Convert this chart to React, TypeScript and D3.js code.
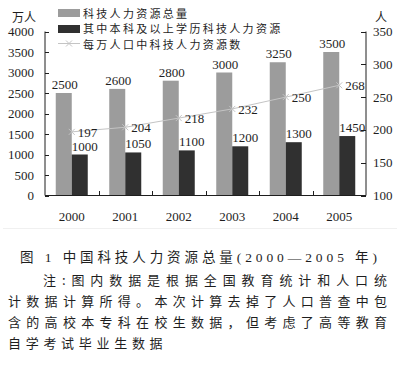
import * as React from 'react';
import * as d3 from 'd3';

const years = ['2000', '2001', '2002', '2003', '2004', '2005'];
const totalHR = [2500, 2600, 2800, 3000, 3250, 3500];
const degreeHR = [1000, 1050, 1100, 1200, 1300, 1450];
const perTenK = [197, 204, 218, 232, 250, 268];
const leftTicks = [0, 500, 1000, 1500, 2000, 2500, 3000, 3500, 4000];
const rightTicks = [100, 150, 200, 250, 300, 350];

const legendLabels = ['科技人力资源总量', '其中本科及以上学历科技人力资源', '每万人口中科技人力资源数'];
const caption = '图 1  中国科技人力资源总量(2000—2005 年)';
const noteLines = [
  '注:图内数据是根据全国教育统计和人口统',
  '计数据计算所得。本次计算去掉了人口普查中包',
  '含的高校本专科在校生数据，但考虑了高等教育',
  '自学考试毕业生数据',
];

const W = 400;
const H = 392;
const GRAY = '#9c9c9c';
const DARK = '#303030';
const LINE = '#c4c4c4';
const INK = '#1e1e1e';
const SERIF = '"Liberation Serif", "Noto Sans CJK SC", serif';
const CJK = '"Noto Sans CJK SC", "Liberation Serif", sans-serif';

export default function App() {
  const x = d3.scaleBand<string>().domain(years).range([45, 366]).padding(0);
  const yL = d3.scaleLinear().domain([0, 4000]).range([195.5, 31.5]);
  const yR = d3.scaleLinear().domain([100, 350]).range([195.5, 31.5]);
  const barW = 16;
  const cx = (d: string) => (x(d) ?? 0) + x.bandwidth() / 2;

  const linePath = d3
    .line<number>()
    .x((_, i) => cx(years[i]))
    .y((d) => yR(d))(perTenK) || '';

  const cross = (px: number, py: number, k: string | number) => (
    <g key={k} stroke={LINE} strokeWidth={1}>
      <line x1={px - 3} y1={py - 3} x2={px + 3} y2={py + 3} />
      <line x1={px - 3} y1={py + 3} x2={px + 3} y2={py - 3} />
    </g>
  );

  return (
    <div style={{ position: 'absolute', left: 0, top: 0 }}>
      <svg width={W} height={H} viewBox={`0 0 ${W} ${H}`} style={{ display: 'block', background: '#fff' }}>
        {/* unit labels */}
        <text x={12} y={22} fontFamily={CJK} fontSize={12} fill={INK}>万人</text>
        <text x={375} y={22} fontFamily={CJK} fontSize={12} fill={INK}>人</text>

        {/* bars */}
        {years.map((d, i) => (
          <g key={d}>
            <rect x={cx(d) - barW} y={yL(totalHR[i])} width={barW} height={yL(0) - yL(totalHR[i])} fill={GRAY} />
            <rect x={cx(d)} y={yL(degreeHR[i])} width={barW} height={yL(0) - yL(degreeHR[i])} fill={DARK} />
            <text x={cx(d) - barW / 2 + 1} y={yL(totalHR[i]) - 4} textAnchor="middle" fontFamily={SERIF} fontSize={13} fill={INK}>
              {totalHR[i]}
            </text>
            <text x={cx(d) + barW / 2 + 5} y={yL(degreeHR[i]) - 4} textAnchor="middle" fontFamily={SERIF} fontSize={13} fill={INK}>
              {degreeHR[i]}
            </text>
          </g>
        ))}

        {/* line series */}
        <path d={linePath} fill="none" stroke={LINE} strokeWidth={1} />
        {perTenK.map((v, i) => cross(cx(years[i]), yR(v), i))}
        {perTenK.map((v, i) => (
          <text key={i} x={cx(years[i]) + 6} y={yR(v) + 5} fontFamily={SERIF} fontSize={13} fill={INK}>
            {v}
          </text>
        ))}

        {/* axes */}
        <line x1={45} y1={31.5} x2={45} y2={195.5} stroke={INK} strokeWidth={1} />
        <line x1={366} y1={31.5} x2={366} y2={195.5} stroke={INK} strokeWidth={1} />
        <line x1={45} y1={195.5} x2={366} y2={195.5} stroke={INK} strokeWidth={1} />
        {leftTicks.map((t) => (
          <g key={t}>
            <line x1={45} x2={49} y1={Math.round(yL(t)) + 0.5} y2={Math.round(yL(t)) + 0.5} stroke={INK} />
            <text x={34} y={yL(t) + 4.5} textAnchor="end" fontFamily={SERIF} fontSize={13} fill={INK}>{t}</text>
          </g>
        ))}
        {rightTicks.map((t) => (
          <g key={t}>
            <line x1={361} x2={366} y1={Math.round(yR(t)) + 0.5} y2={Math.round(yR(t)) + 0.5} stroke={INK} />
            <text x={373} y={yR(t) + 4.5} fontFamily={SERIF} fontSize={13} fill={INK}>{t}</text>
          </g>
        ))}
        {years.slice(1).map((d) => (
          <line key={d} x1={Math.round(x(d) ?? 0) + 0.5} x2={Math.round(x(d) ?? 0) + 0.5} y1={191} y2={195.5} stroke={INK} />
        ))}
        {years.map((d) => (
          <text key={d} x={cx(d)} y={221} textAnchor="middle" fontFamily={SERIF} fontSize={13} fill={INK}>{d}</text>
        ))}

        {/* legend */}
        <rect x={58} y={9} width={22} height={8} fill={GRAY} />
        <rect x={58} y={25} width={22} height={8} fill={DARK} />
        <line x1={58} x2={80} y1={43.5} y2={43.5} stroke={LINE} />
        {cross(69, 43.5, 'lg')}
        {legendLabels.map((t, i) => (
          <text key={t} x={83} y={17.5 + i * 15.8} fontFamily={CJK} fontSize={11} letterSpacing={2.3} fill={INK}>{t}</text>
        ))}

        {/* faint frame edge */}
        <line x1={3} x2={397} y1={228.5} y2={228.5} stroke="#f0f0f0" />

        {/* caption and notes */}
        <text x={20} y={262} fontFamily={SERIF} fontSize={13.5} textLength={357} lengthAdjust="spacing" fill={INK}>
          {caption}
        </text>
        <text x={43} y={285} fontFamily={CJK} fontSize={13} textLength={344} lengthAdjust="spacing" fill={INK}>
          {noteLines[0]}
        </text>
        <text x={8} y={306} fontFamily={CJK} fontSize={13} textLength={379} lengthAdjust="spacing" fill={INK}>
          {noteLines[1]}
        </text>
        <text x={8} y={327} fontFamily={CJK} fontSize={13} textLength={379} lengthAdjust="spacing" fill={INK}>
          {noteLines[2]}
        </text>
        <text x={8} y={348} fontFamily={CJK} fontSize={13} letterSpacing={4.7} fill={INK}>
          {noteLines[3]}
        </text>
      </svg>
    </div>
  );
}
